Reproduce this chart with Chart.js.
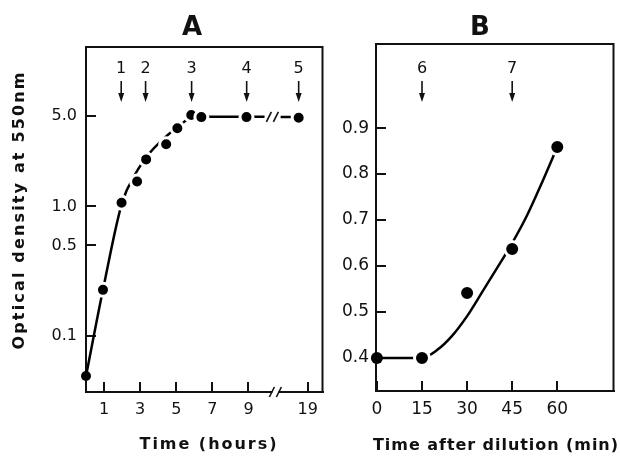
<!DOCTYPE html>
<html>
<head>
<meta charset="utf-8">
<script src="https://cdn.jsdelivr.net/npm/chart.js@4.4.1/dist/chart.umd.min.js"></script>
<style>
    html, body { margin: 0; padding: 0; background: #fff; }
    #painel { position: relative; width: 620px; height: 456px; overflow: hidden; }
    #chartA { position: absolute; left: 0; top: 0; }
    #chartB { position: absolute; left: 330px; top: 0; }
</style>
</head>
<body>
<div id="painel">
    <canvas id="chartA" width="332" height="456"></canvas>
    <canvas id="chartB" width="294" height="456"></canvas>
</div>
<script>
// ---- Painel A: crescimento (densidade optica, escala log) ----
var horasA = [0, 0.94, 1.97, 2.83, 3.33, 4.44, 5.06, 5.83, 6.39, 8.89, 18.5];
var densidadeA = [0.049, 0.227, 1.07, 1.56, 2.31, 3.02, 4.02, 5.08, 4.9, 4.9, 4.85];

// curva desenhada a mao no original (null = quebra do eixo)
var curvaHorasA = [0, 0.94, 2.0, 2.72, 3.55, 4.38, 5.22, 5.83, 6.6, 8.83, 9.89, 10.1, 17.5, 18.5];
var curvaDensA = [0.049, 0.227, 1.07, 1.77, 2.61, 3.41, 4.25, 4.87, 4.93, 4.93, 4.93, null, 4.92, 4.9];

var ticksXA = [1, 3, 5, 7, 9, 19];
var rotulosXA = ['1', '3', '5', '7', '9', '19'];
var ticksYA = [0.1, 0.5, 1, 5];
var rotulosYA = ['0.1', '0.5', '1.0', '5.0'];

var setasHorasA = [1.95, 3.3, 5.85, 8.9, 18.5];
var setasRotulosA = ['1', '2', '3', '4', '5'];

// ---- Painel B: apos diluicao ----
var minutosB = [0, 15, 30, 45, 60];
var densidadeB = [0.40, 0.40, 0.541, 0.637, 0.859];

var curvaMinB = [0, 15, 20, 25, 30, 35, 40, 45, 50, 55, 60];
var curvaDensB = [0.40, 0.40, 0.417, 0.448, 0.491, 0.543, 0.596, 0.65, 0.711, 0.783, 0.859];

var ticksXB = [0, 15, 30, 45, 60];
var rotulosXB = ['0', '15', '30', '45', '60'];
var ticksYB = [0.4, 0.5, 0.6, 0.7, 0.8, 0.9];
var rotulosYB = ['0.4', '0.5', '0.6', '0.7', '0.8', '0.9'];

var setasMinB = [15, 45];
var setasRotulosB = ['6', '7'];

// eixo de horas quebrado entre 9 e 19
var INICIO_QUEBRA = 10.2;
var DESLOCAMENTO = 6.72;
function posicao(h) {
    return h < INICIO_QUEBRA ? h : h - DESLOCAMENTO;
}

var FONTE = 'DejaVu Sans';
var COR = '#111';

function juntar(xs, ys, conv) {
    var lista = [];
    for (var i = 0; i < xs.length; i++) {
        lista.push({ x: conv ? conv(xs[i]) : xs[i], y: ys[i] });
    }
    return lista;
}

function textoEspacado(ctx, texto, cx, cy, largura) {
    ctx.letterSpacing = '0px';
    var w = ctx.measureText(texto).width;
    var esp = (largura - w) / (texto.length - 1);
    ctx.letterSpacing = esp + 'px';
    ctx.textAlign = 'left';
    ctx.fillText(texto, cx - largura / 2, cy);
    ctx.letterSpacing = '0px';
}

function barras(ctx, x, y) {
    // marca de quebra "//"
    ctx.fillStyle = '#fff';
    ctx.fillRect(x - 3, y - 3, 6, 6);
    ctx.strokeStyle = COR;
    ctx.lineWidth = 1.6;
    ctx.beginPath();
    ctx.moveTo(x - 6, y + 5); ctx.lineTo(x - 1, y - 5);
    ctx.moveTo(x + 1, y + 5); ctx.lineTo(x + 6, y - 5);
    ctx.stroke();
}

function criarPlugin(cfg) {
    return {
        id: 'anotacoes' + cfg.titulo,
        beforeDatasetsDraw: function (chart) {
            var a = chart.chartArea;
            var ctx = chart.ctx;
            ctx.save();
            ctx.strokeStyle = COR;
            ctx.lineWidth = 2;
            ctx.beginPath();
            ctx.moveTo(a.left, a.top);
            ctx.lineTo(a.right, a.top);
            ctx.lineTo(a.right, a.bottom);
            ctx.stroke();
            ctx.restore();
        },
        afterDraw: function (chart) {
            var ctx = chart.ctx;
            var sx = chart.scales.x;
            var sy = chart.scales.y;
            ctx.save();
            ctx.fillStyle = COR;
            ctx.strokeStyle = COR;

            // titulo do painel
            ctx.font = 'bold 26px ' + FONTE;
            ctx.textAlign = 'center';
            ctx.textBaseline = 'middle';
            ctx.fillText(cfg.titulo, cfg.tituloX, 28);

            // setas de amostragem
            ctx.font = '16px ' + FONTE;
            for (var i = 0; i < cfg.setas.length; i++) {
                var px = sx.getPixelForValue(cfg.conv ? cfg.conv(cfg.setas[i]) : cfg.setas[i]);
                ctx.fillText(cfg.rotulos[i], px, 69);
                ctx.lineWidth = 1.6;
                ctx.beginPath();
                ctx.moveTo(px, 81);
                ctx.lineTo(px, 95);
                ctx.stroke();
                ctx.beginPath();
                ctx.moveTo(px - 3, 93);
                ctx.lineTo(px + 3, 93);
                ctx.lineTo(px, 102);
                ctx.closePath();
                ctx.fill();
            }

            // titulos dos eixos
            ctx.textBaseline = 'middle';
            ctx.font = 'bold 16px ' + FONTE;
            textoEspacado(ctx, cfg.tituloEixoX, cfg.eixoX[0], cfg.eixoX[1], cfg.eixoX[2]);
            if (cfg.tituloEixoY) {
                ctx.save();
                ctx.translate(cfg.eixoY[0], cfg.eixoY[1]);
                ctx.rotate(-Math.PI / 2);
                textoEspacado(ctx, cfg.tituloEixoY, 0, 0, cfg.eixoY[2]);
                ctx.restore();
            }

            // quebras no eixo e na curva
            if (cfg.quebra) {
                var qx = sx.getPixelForValue(cfg.quebra);
                barras(ctx, qx, chart.chartArea.bottom);
                barras(ctx, qx - 3, sy.getPixelForValue(4.93));
            }
            ctx.restore();
        }
    };
}

function escalas(cfg) {
    return {
        x: {
            type: 'linear',
            bounds: 'data',
            min: cfg.xMin,
            max: cfg.xMax,
            afterBuildTicks: function (scale) {
                scale.ticks = cfg.ticksX.map(function (v) { return { value: v }; });
            },
            afterFit: function (scale) {
                scale.height = cfg.alturaX;
                scale.paddingLeft = 0;
                scale.paddingRight = 0;
            },
            grid: { drawOnChartArea: false, drawTicks: true, tickLength: -10, color: COR, lineWidth: 2 },
            border: { color: COR, width: 2 },
            ticks: {
                padding: 18, color: COR, autoSkip: false, maxRotation: 0,
                font: { family: FONTE, size: cfg.tamanho },
                callback: function (v, i) { return cfg.rotulosX[i]; }
            }
        },
        y: {
            type: cfg.tipoY,
            bounds: 'data',
            min: cfg.yMin,
            max: cfg.yMax,
            afterBuildTicks: function (scale) {
                scale.ticks = cfg.ticksY.map(function (v) { return { value: v }; });
            },
            afterFit: function (scale) {
                scale.width = cfg.larguraY;
                scale.paddingTop = 0;
                scale.paddingBottom = 0;
            },
            grid: { drawOnChartArea: false, drawTicks: true, tickLength: -10, color: COR, lineWidth: 2 },
            border: { color: COR, width: 2 },
            ticks: {
                padding: cfg.padY, color: COR, autoSkip: false,
                font: { family: FONTE, size: cfg.tamanho },
                callback: function (v, i) { return cfg.rotulosY[i]; }
            }
        }
    };
}

function datasets(pontos, curva, raio) {
    return [
        {
            label: 'pontos',
            data: pontos,
            showLine: false,
            pointBackgroundColor: '#000',
            pointBorderColor: '#fff',
            pointRadius: function (c) { return c.raw && c.raw.x === 0 ? raio : raio + 1.5; },
            pointBorderWidth: function (c) { return c.raw && c.raw.x === 0 ? 0 : 3; },
            clip: false
        },
        {
            label: 'curva',
            data: curva,
            borderColor: '#000',
            borderWidth: 2.5,
            pointRadius: 0,
            cubicInterpolationMode: 'monotone',
            spanGaps: false,
            clip: false
        }
    ];
}

var comum = {
    responsive: false,
    animation: false,
    events: [],
    plugins: { legend: { display: false }, tooltip: { enabled: false } }
};

var pluginA = criarPlugin({
    titulo: 'A', tituloX: 192,
    setas: setasHorasA, rotulos: setasRotulosA, conv: posicao,
    tituloEixoX: 'Time (hours)', eixoX: [208, 445, 137],
    tituloEixoY: 'Optical density at 550nm', eixoY: [20, 211, 277],
    quebra: 10.49
});

new Chart(document.getElementById('chartA'), {
    type: 'line',
    data: {
        datasets: datasets(juntar(horasA, densidadeA, posicao), juntar(curvaHorasA, curvaDensA, posicao), 5)
    },
    options: Object.assign({}, comum, {
        layout: { padding: { top: 47, right: 8, left: 0, bottom: 0 } },
        scales: escalas({
            xMin: 0, xMax: 13.1, ticksX: ticksXA.map(posicao), rotulosX: rotulosXA, alturaX: 64,
            tipoY: 'logarithmic', yMin: 0.0369, yMax: 17.05, ticksY: ticksYA, rotulosY: rotulosYA,
            larguraY: 86, padY: 19, tamanho: 16
        })
    }),
    plugins: [pluginA]
});

var pluginB = criarPlugin({
    titulo: 'B', tituloX: 150,
    setas: setasMinB, rotulos: setasRotulosB,
    tituloEixoX: 'Time after dilution (min)', eixoX: [165.5, 446, 245]
});

new Chart(document.getElementById('chartB'), {
    type: 'line',
    data: {
        datasets: datasets(juntar(minutosB, densidadeB), juntar(curvaMinB, curvaDensB), 6)
    },
    options: Object.assign({}, comum, {
        layout: { padding: { top: 44, right: 7, left: 0, bottom: 0 } },
        scales: escalas({
            xMin: -0.3, xMax: 78.7, ticksX: ticksXB, rotulosX: rotulosXB, alturaX: 65,
            tipoY: 'linear', yMin: 0.328, yMax: 1.083, ticksY: ticksYB, rotulosY: rotulosYB,
            larguraY: 46, padY: 17, tamanho: 17
        })
    }),
    plugins: [pluginB]
});
</script>
</body>
</html>
